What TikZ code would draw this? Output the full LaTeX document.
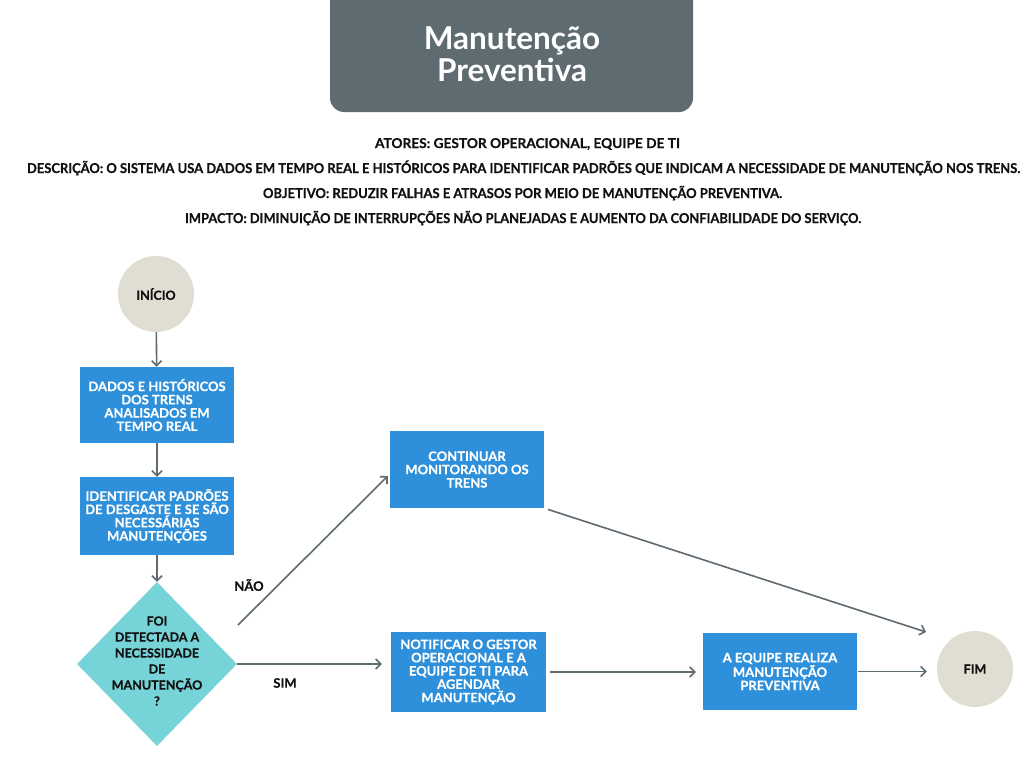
\documentclass[tikz,border=0pt]{standalone}
\usepackage{fontspec}
\setmainfont{Lato}
\newfontfamily\heavyfont{Lato}[BoldFeatures={FakeBold=0.5}]
\usetikzlibrary{arrows.meta,shapes.geometric}
\definecolor{slate}{HTML}{5E6B70}
\definecolor{procblue}{HTML}{2E8FDA}
\definecolor{decteal}{HTML}{76D4D8}
\definecolor{beige}{HTML}{E0DED3}
\definecolor{ink}{HTML}{111111}
\tikzset{
  proc/.style={rectangle, fill=procblue, text=white, minimum width=154pt, minimum height=77pt, inner sep=0pt, align=center, font=\heavyfont\bfseries\fontsize{13}{13.3}\selectfont},
  term/.style={circle, fill=beige, text=ink, minimum size=76pt, inner sep=0pt, font=\heavyfont\bfseries\fontsize{12.5}{14}\selectfont},
  conn/.style={draw=slate, line width=1.6pt, -{Straight Barb[length=5pt,width=10pt,line width=1.6pt]}},
  lbl/.style={text=ink, inner sep=0pt, font=\heavyfont\bfseries\fontsize{13}{14}\selectfont},
  hdr/.style={text=ink, anchor=base, inner sep=0pt, font=\heavyfont\bfseries\fontsize{13.5}{15}\selectfont},
}
\begin{document}
\begin{tikzpicture}[x=1pt,y=-1pt]
\useasboundingbox (0,0) rectangle (1024,768);
\fill[white] (0,0) rectangle (1024,768);
% title
\begin{scope}
\clip (0,0) rectangle (1024,768);
\node[fill=slate, rounded corners=14pt, minimum width=363pt, minimum height=140pt, inner sep=0pt] (titlebox) at (511.5,42) {};
\end{scope}
\node[text=white, align=center, inner sep=0pt, font=\bfseries\fontsize{31.5}{32}\selectfont] (title) at (512,54) {Manutenção\\Preventiva};
% header lines
\node[hdr] (h1) at (527.5,148) {\resizebox{305pt}{\height}{ATORES: GESTOR OPERACIONAL, EQUIPE DE TI}};
\node[hdr] (h2) at (523.5,173) {\resizebox{993pt}{\height}{DESCRIÇÃO: O SISTEMA USA DADOS EM TEMPO REAL E HISTÓRICOS PARA IDENTIFICAR PADRÕES QUE INDICAM A NECESSIDADE DE MANUTENÇÃO NOS TRENS.}};
\node[hdr] (h3) at (522.5,198) {\resizebox{519pt}{\height}{OBJETIVO: REDUZIR FALHAS E ATRASOS POR MEIO DE MANUTENÇÃO PREVENTIVA.}};
\node[hdr] (h4) at (523,223) {\resizebox{676pt}{\height}{IMPACTO: DIMINUIÇÃO DE INTERRUPÇÕES NÃO PLANEJADAS E AUMENTO DA CONFIABILIDADE DO SERVIÇO.}};
% flowchart
\node[term] (ini) at (156,294) {INÍCIO};
\node[proc, minimum height=76pt] (b1) at (157,405) {DADOS E HISTÓRICOS\\DOS TRENS\\ANALISADOS EM\\TEMPO REAL};
\node[proc, minimum height=78pt] (b2) at (157,516) {IDENTIFICAR PADRÕES\\DE DESGASTE E SE SÃO\\NECESSÁRIAS\\MANUTENÇÕES};
\node[diamond, fill=decteal, minimum width=160pt, minimum height=164pt, inner sep=0pt] (dec) at (157,664) {};
\node[text=ink, align=center, inner sep=0pt, font=\heavyfont\bfseries\fontsize{12.5}{16}\selectfont] (dect) at (157,661) {FOI\\DETECTADA A\\NECESSIDADE\\DE\\MANUTENÇÃO\\?};
\node[proc] (cont) at (467,469.5) {CONTINUAR\\MONITORANDO OS\\TRENS};
\node[proc, minimum width=155pt, minimum height=80pt] (notif) at (468.5,672) {NOTIFICAR O GESTOR\\OPERACIONAL E A\\EQUIPE DE TI PARA\\AGENDAR\\MANUTENÇÃO};
\node[proc] (equipe) at (780,671.5) {A EQUIPE REALIZA\\MANUTENÇÃO\\PREVENTIVA};
\node[term] (fim) at (975,669) {FIM};
\coordinate (naoS) at (238,625);
\coordinate (fimIn) at (926,632);
% connectors
\draw[conn] (ini) -- (b1);
\draw[conn] (b1) -- (b2);
\draw[conn] (b2) -- (dec);
\draw[conn] (naoS) -- ([xshift=-2pt,yshift=-6.5pt]cont.west);
\draw[conn, shorten >=9pt] (dec.east) -- (dec.east -| notif.west);
\draw[conn, shorten <=4pt, shorten >=7pt] (notif.east) -- (notif.east -| equipe.west);
\draw[conn, shorten <=1pt, shorten >=10pt] (equipe.east) -- (equipe.east -| fim.west);
\draw[conn, shorten <=4pt] (cont.south east) -- (fimIn);
% labels
\node[lbl] (nao) at (249,585) {NÃO};
\node[lbl] (sim) at (285,683) {SIM};
\end{tikzpicture}
\end{document}
